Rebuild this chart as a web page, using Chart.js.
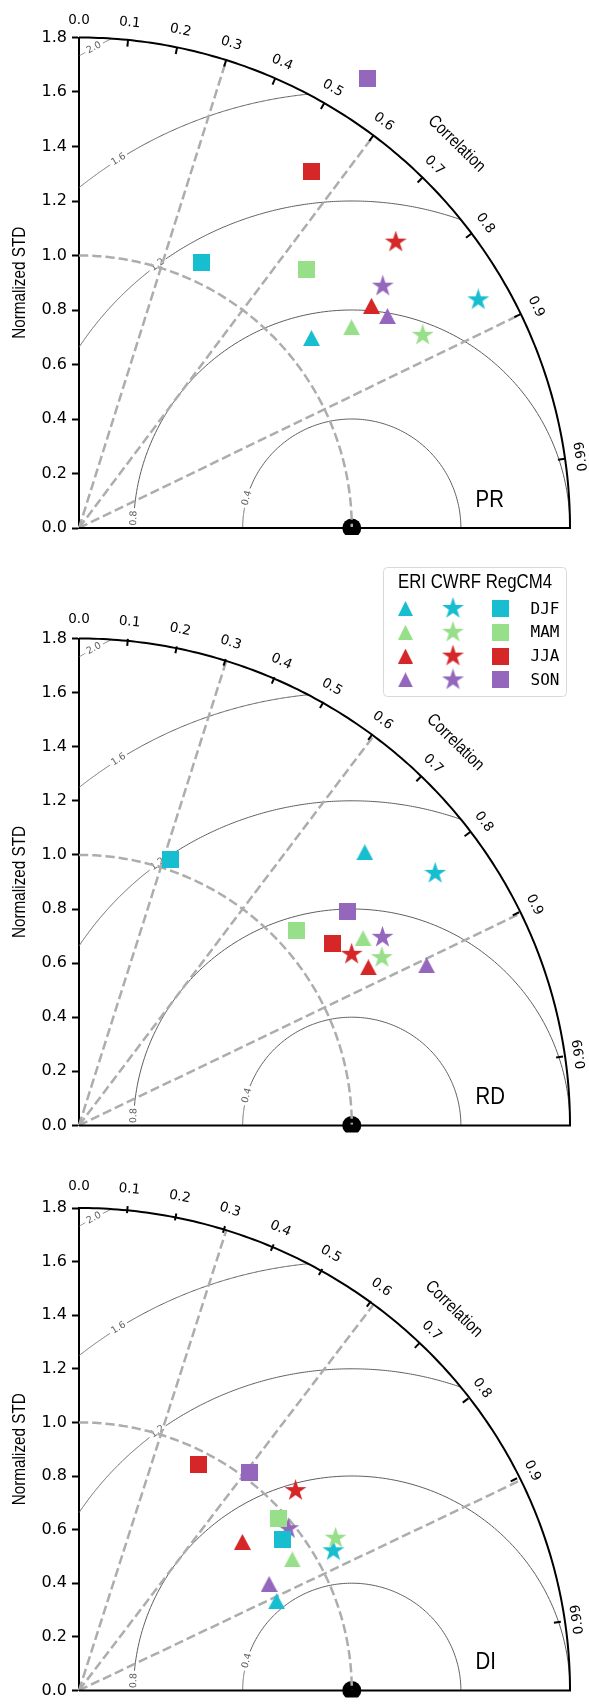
<!DOCTYPE html>
<html>
<head>
<meta charset="utf-8">
<script src="https://cdn.jsdelivr.net/npm/chart.js@4.4.0/dist/chart.umd.min.js"></script>
<style>
    html, body { margin: 0; padding: 0; background: #ffffff; }
    body { width: 589px; height: 1705px; position: relative; overflow: hidden; }
    .panel { position: absolute; left: 0; width: 589px; }
</style>
</head>
<body>
<div class="panel" style="top:0;height:560px"><canvas id="chartPR"></canvas></div>
<div class="panel" style="top:560px;height:580px"><canvas id="chartRD"></canvas></div>
<div class="panel" style="top:1140px;height:565px"><canvas id="chartDI"></canvas></div>
<script>
// Categorias y colores
const seasons = ['DJF', 'MAM', 'JJA', 'SON'];
const modelNames = ['ERI', 'CWRF', 'RegCM4'];
const seasonColors = ['#17becf', '#98df8a', '#d62728', '#9467bd'];

// PR: desviacion normalizada y correlacion (DJF, MAM, JJA, SON)
const prEriStd = [1.101, 1.241, 1.347, 1.372];
const prEriCorr = [0.774, 0.805, 0.796, 0.824];
const prCwrfStd = [1.686, 1.445, 1.565, 1.424];
const prCwrfCorr = [0.868, 0.872, 0.742, 0.782];
const prRegStd = [1.071, 1.265, 1.561, 1.959];
const prRegCorr = [0.418, 0.660, 0.545, 0.540];

// RD
const rdEriStd = [1.455, 1.250, 1.211, 1.405];
const rdEriCorr = [0.720, 0.833, 0.876, 0.907];
const rdCwrfStd = [1.604, 1.272, 1.183, 1.312];
const rdCwrfCorr = [0.814, 0.873, 0.845, 0.848];
const rdRegStd = [1.038, 1.075, 1.147, 1.262];
const rdRegCorr = [0.322, 0.741, 0.811, 0.780];

// DI
const diEriStd = [0.797, 0.922, 0.816, 0.802];
const diEriCorr = [0.909, 0.848, 0.734, 0.869];
const diCwrfStd = [1.068, 1.099, 1.089, 0.976];
const diCwrfCorr = [0.873, 0.856, 0.729, 0.786];
const diRegStd = [0.934, 0.973, 0.950, 1.027];
const diRegCorr = [0.798, 0.751, 0.460, 0.609];

// Ejes del diagrama de Taylor
const REF_STD = 1.0;
const STD_MAX = 1.8;
const corrTicks = [0.0, 0.1, 0.2, 0.3, 0.4, 0.5, 0.6, 0.7, 0.8, 0.9, 0.99];
const corrTickLabels = ['0.0', '0.1', '0.2', '0.3', '0.4', '0.5', '0.6', '0.7', '0.8', '0.9', '0.99'];
const dashedCorr = [0.3, 0.6, 0.9];
const rmsLevels = [0.4, 0.8, 1.2, 1.6, 2.0];
const rmsLabelAngles = [164, 177.4, 126.4, 122.3, 118.2];

// Marcadores
function triangleMarker(color, w, h) {
    const c = document.createElement('canvas');
    c.width = w; c.height = h;
    const ctx = c.getContext('2d');
    ctx.fillStyle = color;
    ctx.beginPath();
    ctx.moveTo(w / 2, 0);
    ctx.lineTo(w, h);
    ctx.lineTo(0, h);
    ctx.closePath();
    ctx.fill();
    return c;
}

function starMarker(color, ro) {
    const size = Math.ceil(ro * 2);
    const c = document.createElement('canvas');
    c.width = size; c.height = size;
    const ctx = c.getContext('2d');
    ctx.fillStyle = color;
    ctx.beginPath();
    for (let i = 0; i < 10; i++) {
        const r = i % 2 ? ro * 0.382 : ro;
        const a = -Math.PI / 2 + i * Math.PI / 5;
        const px = size / 2 + r * Math.cos(a), py = size / 2 + r * Math.sin(a);
        if (i) ctx.lineTo(px, py); else ctx.moveTo(px, py);
    }
    ctx.closePath();
    ctx.fill();
    return c;
}

function squareMarker(color, s) {
    const c = document.createElement('canvas');
    c.width = s; c.height = s;
    const ctx = c.getContext('2d');
    ctx.fillStyle = color;
    ctx.fillRect(0, 0, s, s);
    return c;
}

const triangles = seasonColors.map(col => triangleMarker(col, 17, 16));
const stars = seasonColors.map(col => starMarker(col, 11.5));
const squares = seasonColors.map(col => squareMarker(col, 17));
const legendTriangles = seasonColors.map(col => triangleMarker(col, 15, 15));
const legendStars = seasonColors.map(col => starMarker(col, 11.5));
const legendSquares = seasonColors.map(col => squareMarker(col, 17));

function toPoints(stds, corrs) {
    return stds.map((s, i) => ({ x: s * corrs[i], y: s * Math.sqrt(1 - corrs[i] * corrs[i]) }));
}

// Funciones auxiliares de dibujo
function geom(chart) {
    const xs = chart.scales.x, ys = chart.scales.y;
    const ox = xs.getPixelForValue(0), oy = ys.getPixelForValue(0);
    const unit = ((xs.getPixelForValue(1) - ox) + (oy - ys.getPixelForValue(1))) / 2;
    return { ox, oy, unit, P: (x, y) => [xs.getPixelForValue(x), ys.getPixelForValue(y)] };
}

function arcPath(ctx, g, cx, cy, r, a0, a1) {
    const n = 160;
    ctx.beginPath();
    for (let i = 0; i <= n; i++) {
        const a = a0 + (a1 - a0) * i / n;
        const [px, py] = g.P(cx + r * Math.cos(a), cy + r * Math.sin(a));
        if (i) ctx.lineTo(px, py); else ctx.moveTo(px, py);
    }
    ctx.stroke();
}

function narrowText(ctx, text, x, y, rot, font, squeeze, align) {
    ctx.save();
    ctx.translate(x, y);
    ctx.rotate(rot);
    ctx.scale(squeeze, 1);
    ctx.font = font;
    ctx.textAlign = align;
    ctx.textBaseline = 'middle';
    ctx.fillStyle = '#000';
    ctx.fillText(text, 0, 0);
    ctx.restore();
}

function drawLegend(ctx) {
    const bx = 383, by = 7, bw = 183, bh = 129;
    ctx.save();
    ctx.fillStyle = 'rgba(255,255,255,0.9)';
    ctx.strokeStyle = '#d8d8d8';
    ctx.lineWidth = 1;
    ctx.beginPath();
    if (ctx.roundRect) ctx.roundRect(bx + 0.5, by + 0.5, bw, bh, 4); else ctx.rect(bx + 0.5, by + 0.5, bw, bh);
    ctx.fill();
    ctx.stroke();
    narrowText(ctx, modelNames.join(' '), 475, 22, 0, '20px "Liberation Sans"', 0.84, 'center');
    seasons.forEach((s, i) => {
        const y = 48.5 + i * 23.8;
        const t = legendTriangles[i], st = legendStars[i], sq = legendSquares[i];
        ctx.drawImage(t, 405.5 - t.width / 2, y - t.height / 2);
        ctx.drawImage(st, 453 - st.width / 2, y - st.height / 2);
        ctx.drawImage(sq, 500.5 - sq.width / 2, y - sq.height / 2);
        ctx.font = '16px "DejaVu Sans Mono"';
        ctx.fillStyle = '#000';
        ctx.textAlign = 'left';
        ctx.textBaseline = 'middle';
        ctx.fillText(s, 530.5, y + 1);
    });
    ctx.restore();
}

// Plugin del diagrama de Taylor
const taylorPlugin = {
    id: 'taylor',
    beforeDatasetsDraw(chart) {
        const ctx = chart.ctx;
        const g = geom(chart);
        ctx.save();

        // Contornos RMS centrados en la referencia
        rmsLevels.forEach((rho, k) => {
            const cmax = (STD_MAX * STD_MAX - REF_STD * REF_STD - rho * rho) / (2 * rho * REF_STD);
            const phiStart = Math.acos(Math.min(1, cmax));
            const phiEnd = Math.acos(Math.max(-1, -REF_STD / rho));
            const phiLab = rmsLabelAngles[k] * Math.PI / 180;
            const label = rho.toFixed(1);
            ctx.font = '9.5px "DejaVu Sans"';
            const tw = ctx.measureText(label).width;
            const gap = (tw / 2 + 2.5) / (rho * g.unit);
            ctx.strokeStyle = '#5e5e5e';
            ctx.lineWidth = 1;
            ctx.setLineDash([]);
            if (phiLab - gap > phiStart) arcPath(ctx, g, REF_STD, 0, rho, phiStart, phiLab - gap);
            if (phiLab + gap < phiEnd) arcPath(ctx, g, REF_STD, 0, rho, phiLab + gap, phiEnd);
            const [lx, ly] = g.P(REF_STD + rho * Math.cos(phiLab), rho * Math.sin(phiLab));
            ctx.save();
            ctx.translate(lx, ly);
            ctx.rotate(-(phiLab - Math.PI / 2));
            ctx.fillStyle = '#5e5e5e';
            ctx.textAlign = 'center';
            ctx.textBaseline = 'middle';
            ctx.fillText(label, 0, 0);
            ctx.restore();
        });

        // Lineas radiales discontinuas
        ctx.strokeStyle = '#adadad';
        ctx.lineWidth = 2.5;
        ctx.setLineDash([9.25, 4]);
        dashedCorr.forEach(c => {
            const [x0, y0] = g.P(0, 0);
            const [x1, y1] = g.P(STD_MAX * c, STD_MAX * Math.sqrt(1 - c * c));
            ctx.beginPath();
            ctx.moveTo(x0, y0);
            ctx.lineTo(x1, y1);
            ctx.stroke();
        });
        ctx.restore();
    },
    afterDatasetDraw(chart, args) {
        if (!chart.data.datasets[args.index].isRef) return;
        const ctx = chart.ctx;
        const g = geom(chart);
        ctx.save();
        ctx.strokeStyle = '#adadad';
        ctx.lineWidth = 2.5;
        ctx.setLineDash([9.25, 4]);
        arcPath(ctx, g, 0, 0, REF_STD, Math.PI / 2, 0);
        ctx.restore();
    },
    afterDraw(chart, args, opts) {
        const ctx = chart.ctx;
        const g = geom(chart);
        const R = STD_MAX * g.unit;
        ctx.save();

        // Arco exterior y eje inferior
        ctx.strokeStyle = '#000';
        ctx.lineWidth = 2;
        arcPath(ctx, g, 0, 0, STD_MAX, 0, Math.PI / 2);
        const [x0, y0] = g.P(0, 0);
        const [x1, y1] = g.P(STD_MAX, 0);
        ctx.beginPath();
        ctx.moveTo(x0, y0);
        ctx.lineTo(x1 + 1, y1);
        ctx.stroke();

        // Marcas y etiquetas de correlacion
        corrTicks.forEach((c, i) => {
            const th = Math.acos(c);
            const cs = Math.cos(th), sn = Math.sin(th);
            if (c > 0) {
                ctx.beginPath();
                ctx.moveTo(g.ox + R * cs, g.oy - R * sn);
                ctx.lineTo(g.ox + (R - 7) * cs, g.oy - (R - 7) * sn);
                ctx.stroke();
            }
            ctx.save();
            ctx.translate(g.ox + (R + 17) * cs, g.oy - (R + 17) * sn);
            // la etiqueta 0.99 aparece girada al reves en el original
            ctx.rotate(Math.PI / 2 - th + (c > 0.95 ? Math.PI : 0));
            ctx.font = '13.5px "DejaVu Sans"';
            ctx.fillStyle = '#000';
            ctx.textAlign = 'center';
            ctx.textBaseline = 'middle';
            ctx.fillText(corrTickLabels[i], 0, 0);
            ctx.restore();
        });

        // Titulos
        const thc = 45.5 * Math.PI / 180;
        narrowText(ctx, 'Correlation', g.ox + (R + 48) * Math.cos(thc), g.oy - (R + 48) * Math.sin(thc),
            Math.PI / 2 - thc, '17.5px "Liberation Sans"', 0.85, 'center');
        narrowText(ctx, 'Normalized STD', 20, (g.oy + g.P(0, STD_MAX)[1]) / 2, -Math.PI / 2,
            '18px "Liberation Sans"', 0.85, 'center');
        const [px, py] = g.P(1.454, 0.103);
        narrowText(ctx, opts.panelName, px, py, 0, '24px "Liberation Sans"', 0.85, 'left');

        if (opts.showLegend) drawLegend(ctx);
        ctx.restore();
    }
};

function buildChart(canvasId, panelName, padding, showLegend, eri, cwrf, reg) {
    const ctx = document.getElementById(canvasId).getContext('2d');
    return new Chart(ctx, {
        type: 'scatter',
        data: {
            datasets: [
                {
                    label: 'Reference',
                    isRef: true,
                    data: [{ x: REF_STD, y: 0 }],
                    pointStyle: 'circle',
                    pointRadius: 9.5,
                    backgroundColor: '#000',
                    borderColor: '#000',
                    borderWidth: 0,
                    order: 10,
                    clip: { left: false, top: false, right: false, bottom: 7 }
                },
                {
                    label: modelNames[0],
                    data: toPoints(eri[0], eri[1]),
                    pointStyle: triangles,
                    pointRadius: 8,
                    order: 3,
                    clip: false
                },
                {
                    label: modelNames[1],
                    data: toPoints(cwrf[0], cwrf[1]),
                    pointStyle: stars,
                    pointRadius: 8,
                    order: 2,
                    clip: false
                },
                {
                    label: modelNames[2],
                    data: toPoints(reg[0], reg[1]),
                    pointStyle: squares,
                    pointRadius: 8,
                    order: 1,
                    clip: false
                }
            ]
        },
        options: {
            responsive: true,
            maintainAspectRatio: false,
            animation: false,
            events: [],
            layout: { padding: padding },
            plugins: {
                legend: { display: false },
                tooltip: { enabled: false },
                taylor: { panelName: panelName, showLegend: showLegend }
            },
            scales: {
                x: { type: 'linear', display: false, min: 0, max: STD_MAX },
                y: {
                    type: 'linear',
                    min: 0,
                    max: STD_MAX,
                    ticks: {
                        stepSize: 0.2,
                        callback: v => v.toFixed(1),
                        font: { family: 'DejaVu Sans', size: 16 },
                        color: '#000',
                        padding: 5
                    },
                    grid: { drawOnChartArea: false, drawTicks: true, tickLength: 7, tickColor: '#000', tickWidth: 2 },
                    border: { display: true, color: '#000', width: 2 },
                    afterFit: scale => { scale.width = 79; }
                }
            }
        },
        plugins: [taylorPlugin]
    });
}

buildChart('chartPR', 'PR', { top: 37.5, right: 19, bottom: 32, left: 0 }, false,
    [prEriStd, prEriCorr], [prCwrfStd, prCwrfCorr], [prRegStd, prRegCorr]);
buildChart('chartRD', 'RD', { top: 78.5, right: 19, bottom: 10.5, left: 0 }, true,
    [rdEriStd, rdEriCorr], [rdCwrfStd, rdCwrfCorr], [rdRegStd, rdRegCorr]);
buildChart('chartDI', 'DI', { top: 68, right: 19, bottom: 6, left: 0 }, false,
    [diEriStd, diEriCorr], [diCwrfStd, diCwrfCorr], [diRegStd, diRegCorr]);
</script>
</body>
</html>
